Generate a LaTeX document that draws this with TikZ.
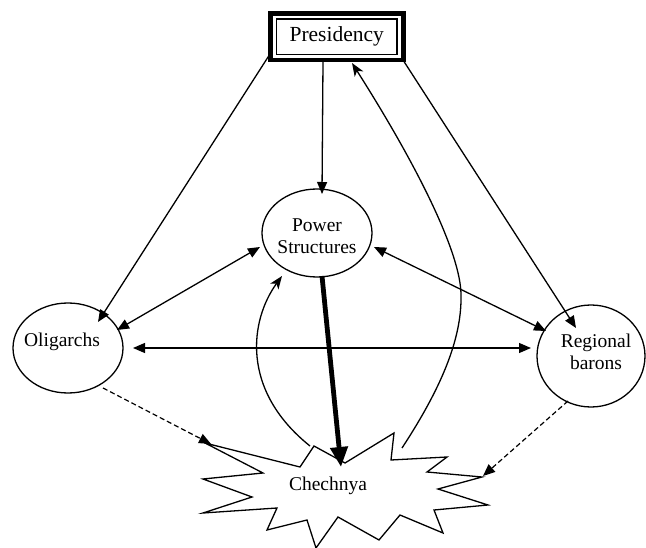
\documentclass[tikz,border=0pt]{standalone}
\usepackage{fontspec}
\setmainfont{Liberation Serif}
\usetikzlibrary{arrows.meta,shapes.geometric}
\begin{document}
\begin{tikzpicture}[x=1pt,y=-1pt,
  lbl/.style={font=\fontsize{19.5}{22}\selectfont, align=center, inner sep=0pt},
  ell/.style={draw, ellipse, line width=1.3pt, inner sep=0pt},
  conn/.style={line width=1.3pt, -{Triangle[length=12pt,width=10pt]}},
  biconn/.style={line width=1.3pt, {Triangle[length=12pt,width=10pt]}-{Triangle[length=12pt,width=10pt]}},
  curv/.style={line width=1.3pt, -{Stealth[length=13pt,width=10pt,inset=3.5pt]}},
  dashconn/.style={line width=1.2pt, dash pattern=on 5pt off 3pt, -{Triangle[length=12pt,width=10pt]}},
  bigarrow/.style={line width=4.8pt, -{Triangle[length=20pt,width=17pt]}},
  ]
\useasboundingbox (0,0) rectangle (646,548);

% Presidency
\node[draw, line width=1.3pt, minimum width=120.5pt, minimum height=35.3pt, inner sep=0pt,
      font=\fontsize{21.5}{24}\selectfont] (pres) at (336.75,36.65) {Presidency};
\draw[line width=4.7pt] ([shift={(-5.2pt,-5pt)}]pres.south west) rectangle ([shift={(5.7pt,4.5pt)}]pres.north east);

% ellipses
\node[ell, minimum width=110pt, minimum height=88pt] (pow) at (317,233) {};
\node[lbl] (powt) at (317,236) {Power\\Structures};
\node[ell, minimum width=110pt, minimum height=90pt] (olig) at (68,348) {};
\node[lbl] (oligt) at (62,342) {Oligarchs};
\node[ell, minimum width=108pt, minimum height=102pt] (reg) at (591,356) {};
\node[lbl] (regt) at (596,352) {Regional\\barons};

% Chechnya starburst
\draw[line width=1.3pt, fill=white] (205,443) -- (300,467) -- (314,446) -- (345,463) -- (394,433)
  -- (391,460) -- (447,457) -- (427,472) -- (482,477) -- (438,489) -- (488,505) -- (434,510)
  -- (443,533) -- (400,515) -- (379,540) -- (338,517) -- (316,548) -- (307,520) -- (267,530)
  -- (277,508) -- (203,513) -- (252,497) -- (203,479) -- (263,473) -- cycle;
\node[lbl] (chech) at (328,486) {Chechnya};

% attachment points
\coordinate (presBL) at (270,54);
\coordinate (presBR) at (403,60);
\coordinate (presB) at (323,62);
\coordinate (presArr) at (352,63);
\coordinate (powTop) at (322,194);
\coordinate (powL) at (260,247);
\coordinate (powR) at (374,247);
\coordinate (powB) at (322,276);
\coordinate (powBL) at (282,276);
\coordinate (oligTR) at (98,322);
\coordinate (oligR1) at (117,330);
\coordinate (oligR2) at (133,348);
\coordinate (oligBR) at (103,388);
\coordinate (regL) at (531,348);
\coordinate (regTL) at (546,331);
\coordinate (regT) at (576,328);
\coordinate (regBL) at (568,401);
\coordinate (chTL) at (211,444);
\coordinate (chR) at (483,476);
\coordinate (chTop) at (341,467);
\coordinate (chC1) at (310,446);
\coordinate (chC2) at (402,448);

% connectors
\draw[conn] (presB) -- (powTop);
\draw[conn] (presBL) -- (oligTR);
\draw[conn] (presBR) -- (regT);
\draw[biconn] (powL) -- (oligR1);
\draw[biconn] (oligR2) -- (regL);
\draw[biconn] (powR) -- (regTL);
\draw[bigarrow] (powB) -- (chTop);
\draw[curv] (chC1) .. controls (240,390) and (250,320) .. (powBL);
\draw[curv] (chC2) .. controls (440,390) and (462,340) .. (461,295) .. controls (461,255) and (420,170) .. (presArr);
\draw[dashconn] (oligBR) -- (chTL);
\draw[dashconn] (regBL) -- (chR);
\end{tikzpicture}
\end{document}
